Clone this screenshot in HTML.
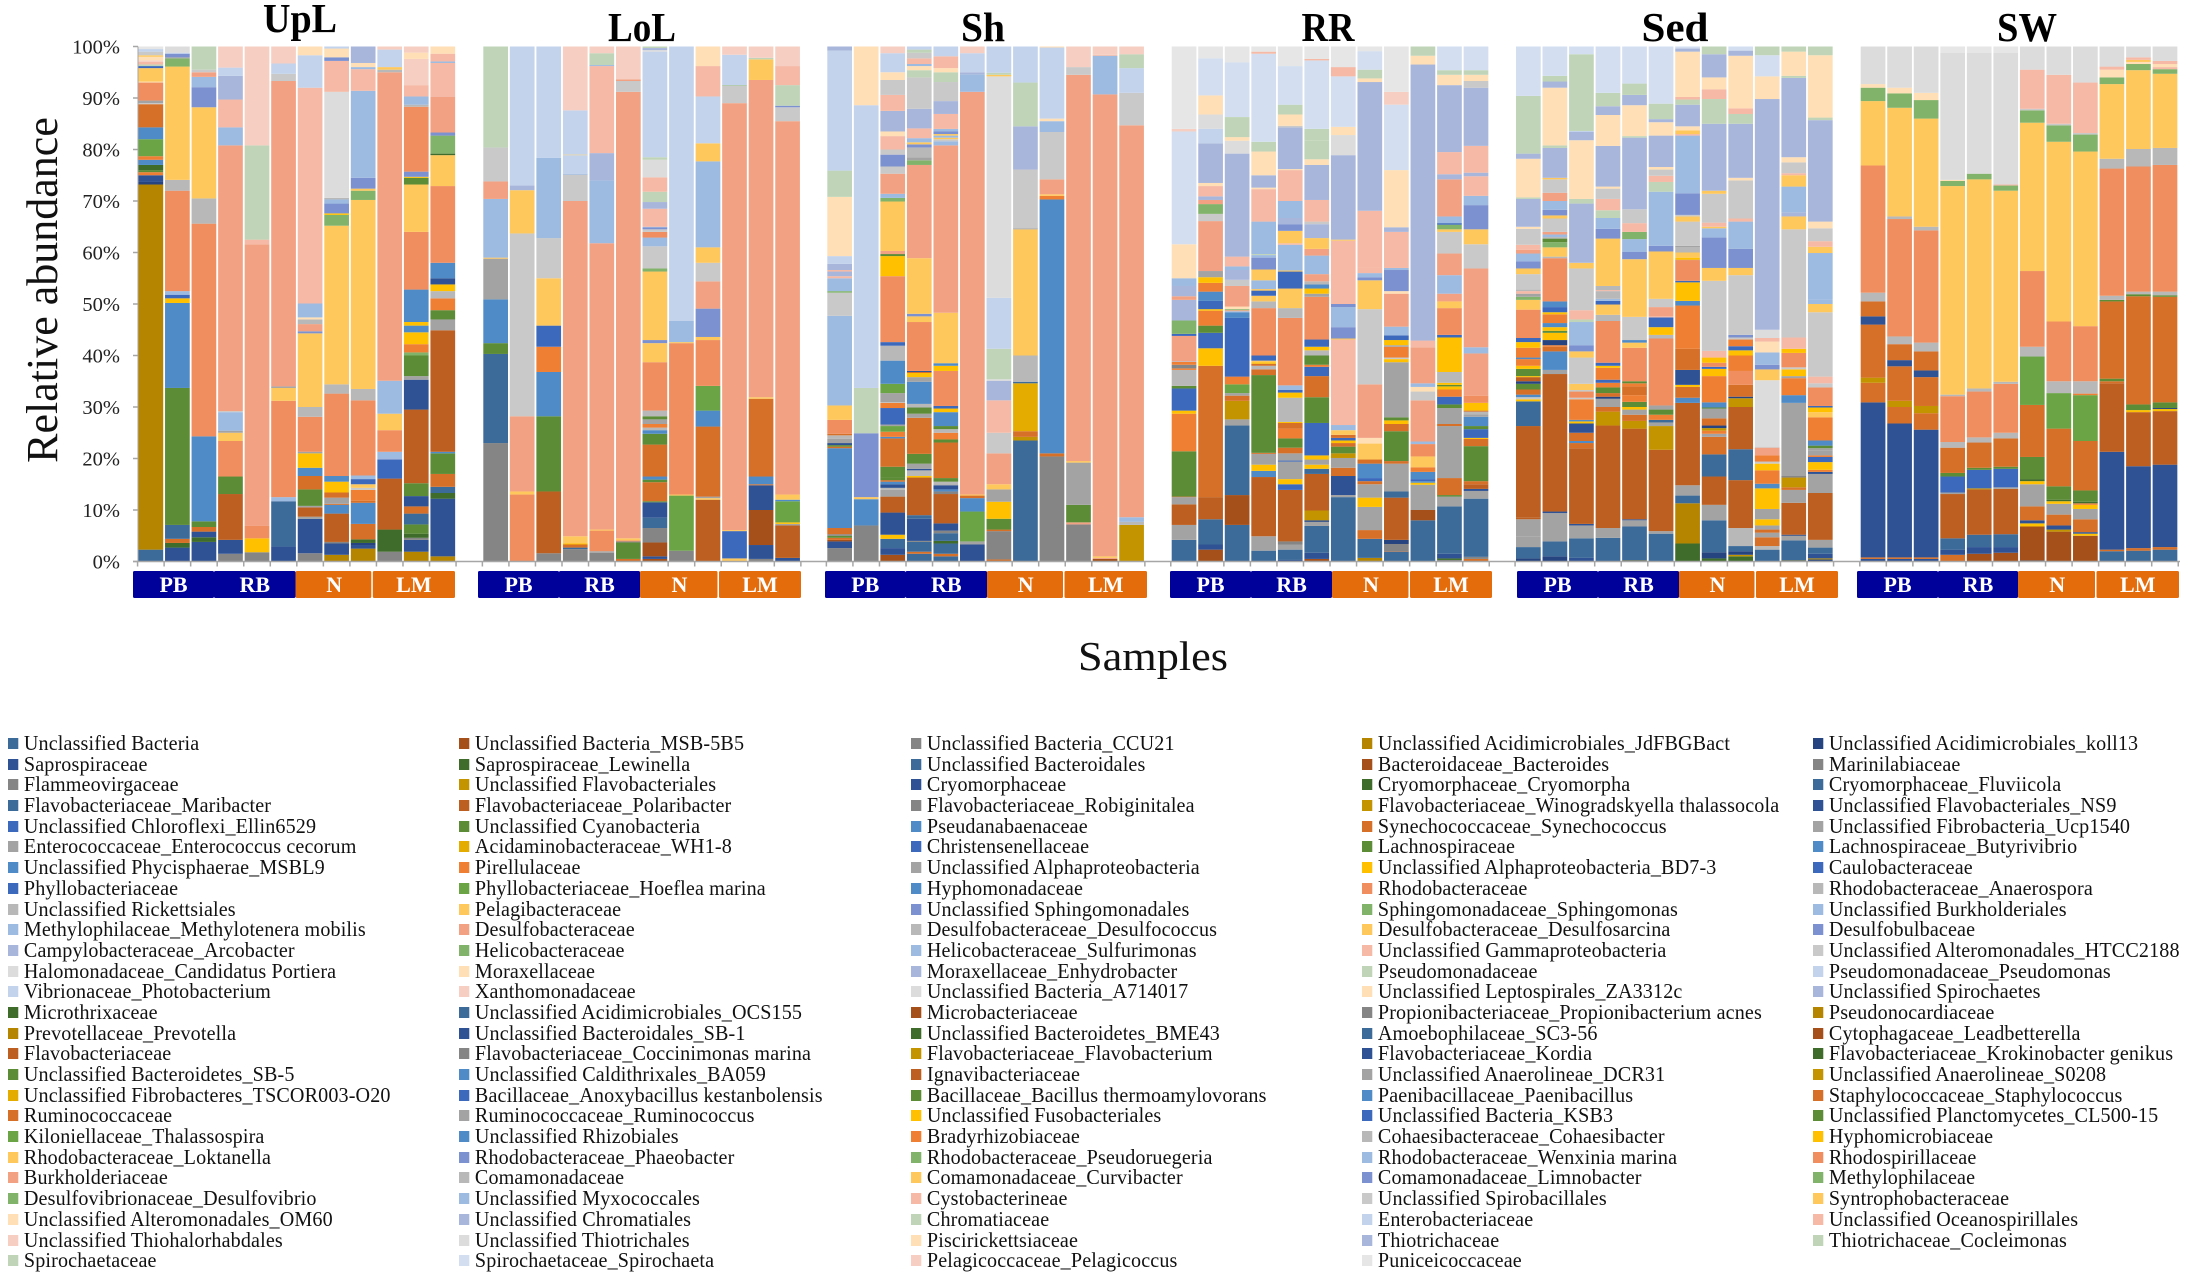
<!DOCTYPE html>
<html lang="en">
<head>
<meta charset="utf-8">
<title>Relative abundance by sample</title>
<style>
html,body{margin:0;padding:0;background:#fff}
#page{position:relative;width:2190px;height:1277px;overflow:hidden;background:#fff;font-family:"Liberation Serif",serif;color:#111}
#chart{position:absolute;left:0;top:0}
.col{position:absolute;top:733px;transform:scaleX(.935);transform-origin:left top}
.li{height:20.7px;line-height:20.7px;font-size:21.5px;white-space:nowrap;padding-left:17px;position:relative;letter-spacing:.15px}
.li i{position:absolute;left:0;top:5px;width:11.2px;height:11px}
.cS{background:#3d6b99}.cN{background:#2e5294}.cn{background:#26447f}.cK{background:#858585}.cB{background:#4f8bc6}.cR{background:#3d69bd}.cA{background:#a3a3a3}.cL{background:#b8b8b8}.cc{background:#c9c9c9}.cC{background:#dcdcdc}.cE{background:#e6e6e6}
.cD{background:#b58500}.cd{background:#c49400}.cW{background:#a5501a}.cP{background:#bc5f20}.cO{background:#d66f27}.co{background:#ee7f33}.cG{background:#3f6c2a}.cg{background:#5c8c36}.ch{background:#82b36a}.cy{background:#ffc000}.ce{background:#e5ac00}.cF{background:#6aa444}
.cY{background:#ffc85c}.cp{background:#f08e5f}.cs{background:#f2a283}.ct{background:#f5b9a5}.cq{background:#f6cfc2}.cf{background:#c0d5b8}.cl{background:#ffdfb5}.cu{background:#c3d3ec}.cU{background:#d3dff0}.cx{background:#9dbae0}.cz{background:#a9b6db}.cV{background:#7c91cf}
</style>
</head>
<body>
<div id="page">
<svg id="chart" width="2190" height="720" viewBox="0 0 2190 720" xmlns="http://www.w3.org/2000/svg">
  <g id="plot"></g>
  <text x="43" y="290" transform="rotate(-90 43 290)" dy="14" text-anchor="middle" font-family="Liberation Serif, serif" font-size="44" fill="#111">Relative abundance</text>
  <text x="1153" y="670" text-anchor="middle" font-family="Liberation Serif, serif" font-size="41" textLength="150" lengthAdjust="spacingAndGlyphs" fill="#111">Samples</text>
</svg>

<div class="col" style="left:8px">
<div class="li"><i class="cS"></i>Unclassified Bacteria</div>
<div class="li"><i class="cN"></i>Saprospiraceae</div>
<div class="li"><i class="cK"></i>Flammeovirgaceae</div>
<div class="li"><i class="cS"></i>Flavobacteriaceae_Maribacter</div>
<div class="li"><i class="cR"></i>Unclassified Chloroflexi_Ellin6529</div>
<div class="li"><i class="cA"></i>Enterococcaceae_Enterococcus cecorum</div>
<div class="li"><i class="cB"></i>Unclassified Phycisphaerae_MSBL9</div>
<div class="li"><i class="cR"></i>Phyllobacteriaceae</div>
<div class="li"><i class="cL"></i>Unclassified Rickettsiales</div>
<div class="li"><i class="cx"></i>Methylophilaceae_Methylotenera mobilis</div>
<div class="li"><i class="cz"></i>Campylobacteraceae_Arcobacter</div>
<div class="li"><i class="cC"></i>Halomonadaceae_Candidatus Portiera</div>
<div class="li"><i class="cu"></i>Vibrionaceae_Photobacterium</div>
<div class="li"><i class="cG"></i>Microthrixaceae</div>
<div class="li"><i class="cD"></i>Prevotellaceae_Prevotella</div>
<div class="li"><i class="cP"></i>Flavobacteriaceae</div>
<div class="li"><i class="cg"></i>Unclassified Bacteroidetes_SB-5</div>
<div class="li"><i class="ce"></i>Unclassified Fibrobacteres_TSCOR003-O20</div>
<div class="li"><i class="cO"></i>Ruminococcaceae</div>
<div class="li"><i class="cF"></i>Kiloniellaceae_Thalassospira</div>
<div class="li"><i class="cY"></i>Rhodobacteraceae_Loktanella</div>
<div class="li"><i class="cs"></i>Burkholderiaceae</div>
<div class="li"><i class="ch"></i>Desulfovibrionaceae_Desulfovibrio</div>
<div class="li"><i class="cl"></i>Unclassified Alteromonadales_OM60</div>
<div class="li"><i class="cq"></i>Unclassified Thiohalorhabdales</div>
<div class="li"><i class="cf"></i>Spirochaetaceae</div>
</div>

<div class="col" style="left:459px">
<div class="li"><i class="cW"></i>Unclassified Bacteria_MSB-5B5</div>
<div class="li"><i class="cG"></i>Saprospiraceae_Lewinella</div>
<div class="li"><i class="cd"></i>Unclassified Flavobacteriales</div>
<div class="li"><i class="cP"></i>Flavobacteriaceae_Polaribacter</div>
<div class="li"><i class="cg"></i>Unclassified Cyanobacteria</div>
<div class="li"><i class="ce"></i>Acidaminobacteraceae_WH1-8</div>
<div class="li"><i class="co"></i>Pirellulaceae</div>
<div class="li"><i class="cF"></i>Phyllobacteriaceae_Hoeflea marina</div>
<div class="li"><i class="cY"></i>Pelagibacteraceae</div>
<div class="li"><i class="cs"></i>Desulfobacteraceae</div>
<div class="li"><i class="ch"></i>Helicobacteraceae</div>
<div class="li"><i class="cl"></i>Moraxellaceae</div>
<div class="li"><i class="cq"></i>Xanthomonadaceae</div>
<div class="li"><i class="cS"></i>Unclassified Acidimicrobiales_OCS155</div>
<div class="li"><i class="cN"></i>Unclassified Bacteroidales_SB-1</div>
<div class="li"><i class="cK"></i>Flavobacteriaceae_Coccinimonas marina</div>
<div class="li"><i class="cB"></i>Unclassified Caldithrixales_BA059</div>
<div class="li"><i class="cR"></i>Bacillaceae_Anoxybacillus kestanbolensis</div>
<div class="li"><i class="cA"></i>Ruminococcaceae_Ruminococcus</div>
<div class="li"><i class="cB"></i>Unclassified Rhizobiales</div>
<div class="li"><i class="cV"></i>Rhodobacteraceae_Phaeobacter</div>
<div class="li"><i class="cL"></i>Comamonadaceae</div>
<div class="li"><i class="cx"></i>Unclassified Myxococcales</div>
<div class="li"><i class="cz"></i>Unclassified Chromatiales</div>
<div class="li"><i class="cC"></i>Unclassified Thiotrichales</div>
<div class="li"><i class="cU"></i>Spirochaetaceae_Spirochaeta</div>
</div>

<div class="col" style="left:911px">
<div class="li"><i class="cK"></i>Unclassified Bacteria_CCU21</div>
<div class="li"><i class="cS"></i>Unclassified Bacteroidales</div>
<div class="li"><i class="cN"></i>Cryomorphaceae</div>
<div class="li"><i class="cK"></i>Flavobacteriaceae_Robiginitalea</div>
<div class="li"><i class="cB"></i>Pseudanabaenaceae</div>
<div class="li"><i class="cR"></i>Christensenellaceae</div>
<div class="li"><i class="cA"></i>Unclassified Alphaproteobacteria</div>
<div class="li"><i class="cB"></i>Hyphomonadaceae</div>
<div class="li"><i class="cV"></i>Unclassified Sphingomonadales</div>
<div class="li"><i class="cL"></i>Desulfobacteraceae_Desulfococcus</div>
<div class="li"><i class="cx"></i>Helicobacteraceae_Sulfurimonas</div>
<div class="li"><i class="cz"></i>Moraxellaceae_Enhydrobacter</div>
<div class="li"><i class="cC"></i>Unclassified Bacteria_A714017</div>
<div class="li"><i class="cW"></i>Microbacteriaceae</div>
<div class="li"><i class="cG"></i>Unclassified Bacteroidetes_BME43</div>
<div class="li"><i class="cd"></i>Flavobacteriaceae_Flavobacterium</div>
<div class="li"><i class="cP"></i>Ignavibacteriaceae</div>
<div class="li"><i class="cg"></i>Bacillaceae_Bacillus thermoamylovorans</div>
<div class="li"><i class="cy"></i>Unclassified Fusobacteriales</div>
<div class="li"><i class="co"></i>Bradyrhizobiaceae</div>
<div class="li"><i class="ch"></i>Rhodobacteraceae_Pseudoruegeria</div>
<div class="li"><i class="cY"></i>Comamonadaceae_Curvibacter</div>
<div class="li"><i class="ct"></i>Cystobacterineae</div>
<div class="li"><i class="cf"></i>Chromatiaceae</div>
<div class="li"><i class="cl"></i>Piscirickettsiaceae</div>
<div class="li"><i class="cq"></i>Pelagicoccaceae_Pelagicoccus</div>
</div>

<div class="col" style="left:1362px">
<div class="li"><i class="cD"></i>Unclassified Acidimicrobiales_JdFBGBact</div>
<div class="li"><i class="cW"></i>Bacteroidaceae_Bacteroides</div>
<div class="li"><i class="cG"></i>Cryomorphaceae_Cryomorpha</div>
<div class="li"><i class="cd"></i>Flavobacteriaceae_Winogradskyella thalassocola</div>
<div class="li"><i class="cO"></i>Synechococcaceae_Synechococcus</div>
<div class="li"><i class="cg"></i>Lachnospiraceae</div>
<div class="li"><i class="cy"></i>Unclassified Alphaproteobacteria_BD7-3</div>
<div class="li"><i class="cp"></i>Rhodobacteraceae</div>
<div class="li"><i class="ch"></i>Sphingomonadaceae_Sphingomonas</div>
<div class="li"><i class="cY"></i>Desulfobacteraceae_Desulfosarcina</div>
<div class="li"><i class="ct"></i>Unclassified Gammaproteobacteria</div>
<div class="li"><i class="cf"></i>Pseudomonadaceae</div>
<div class="li"><i class="cl"></i>Unclassified Leptospirales_ZA3312c</div>
<div class="li"><i class="cK"></i>Propionibacteriaceae_Propionibacterium acnes</div>
<div class="li"><i class="cS"></i>Amoebophilaceae_SC3-56</div>
<div class="li"><i class="cN"></i>Flavobacteriaceae_Kordia</div>
<div class="li"><i class="cA"></i>Unclassified Anaerolineae_DCR31</div>
<div class="li"><i class="cB"></i>Paenibacillaceae_Paenibacillus</div>
<div class="li"><i class="cR"></i>Unclassified Bacteria_KSB3</div>
<div class="li"><i class="cL"></i>Cohaesibacteraceae_Cohaesibacter</div>
<div class="li"><i class="cx"></i>Rhodobacteraceae_Wenxinia marina</div>
<div class="li"><i class="cV"></i>Comamonadaceae_Limnobacter</div>
<div class="li"><i class="cc"></i>Unclassified Spirobacillales</div>
<div class="li"><i class="cu"></i>Enterobacteriaceae</div>
<div class="li"><i class="cz"></i>Thiotrichaceae</div>
<div class="li"><i class="cE"></i>Puniceicoccaceae</div>
</div>

<div class="col" style="left:1813px">
<div class="li"><i class="cn"></i>Unclassified Acidimicrobiales_koll13</div>
<div class="li"><i class="cK"></i>Marinilabiaceae</div>
<div class="li"><i class="cS"></i>Cryomorphaceae_Fluviicola</div>
<div class="li"><i class="cN"></i>Unclassified Flavobacteriales_NS9</div>
<div class="li"><i class="cA"></i>Unclassified Fibrobacteria_Ucp1540</div>
<div class="li"><i class="cB"></i>Lachnospiraceae_Butyrivibrio</div>
<div class="li"><i class="cR"></i>Caulobacteraceae</div>
<div class="li"><i class="cL"></i>Rhodobacteraceae_Anaerospora</div>
<div class="li"><i class="cx"></i>Unclassified Burkholderiales</div>
<div class="li"><i class="cV"></i>Desulfobulbaceae</div>
<div class="li"><i class="cc"></i>Unclassified Alteromonadales_HTCC2188</div>
<div class="li"><i class="cu"></i>Pseudomonadaceae_Pseudomonas</div>
<div class="li"><i class="cz"></i>Unclassified Spirochaetes</div>
<div class="li"><i class="cD"></i>Pseudonocardiaceae</div>
<div class="li"><i class="cW"></i>Cytophagaceae_Leadbetterella</div>
<div class="li"><i class="cG"></i>Flavobacteriaceae_Krokinobacter genikus</div>
<div class="li"><i class="cd"></i>Unclassified Anaerolineae_S0208</div>
<div class="li"><i class="cO"></i>Staphylococcaceae_Staphylococcus</div>
<div class="li"><i class="cg"></i>Unclassified Planctomycetes_CL500-15</div>
<div class="li"><i class="cy"></i>Hyphomicrobiaceae</div>
<div class="li"><i class="cp"></i>Rhodospirillaceae</div>
<div class="li"><i class="ch"></i>Methylophilaceae</div>
<div class="li"><i class="cY"></i>Syntrophobacteraceae</div>
<div class="li"><i class="ct"></i>Unclassified Oceanospirillales</div>
<div class="li"><i class="cf"></i>Thiotrichaceae_Cocleimonas</div>
</div>
</div>

<script>
// Categories and labels
const panelNames = ["UpL", "LoL", "Sh", "RR", "Sed", "SW"];
const groupNames = ["PB", "RB", "N", "LM"];
const tickLabels = ["0%", "10%", "20%", "30%", "40%", "50%", "60%", "70%", "80%", "90%", "100%"];
const tickValues = [0, 10, 20, 30, 40, 50, 60, 70, 80, 90, 100];

// Each sample lists taxon colour key followed by that segment's upper boundary (%), bottom to top.
const upLSamples = [
["S",2.3,"D",73.2,"n",73.7,"N",75,"o",75.6,"g",76,"G",77,"B",78,"o",78.7,"F",82,"B",84.3,"O",88.8,"c",89,"A",89.5,"p",93,"l",93.2,"Y",95.8,"R",96.2,"f",96.5,"t",97,"q",97.3,"l",98,"Y",98.3,"c",99,"u",99.5,"E",100],
["N",2.7,"G",3.6,"O",4.4,"S",7.1,"g",33.7,"B",50.2,"y",51.1,"R",51.8,"x",52.5,"p",72,"L",74.1,"Y",96.1,"h",97.7,"A",97.9,"V",98.6,"u",98.8,"C",100],
["N",3.8,"G",4.7,"N",5.8,"O",6.7,"g",7.8,"B",24.3,"p",65.6,"L",70.5,"Y",88.2,"V",92.1,"x",94.1,"s",95,"c",95.5,"f",100],
["K",1.5,"N",4.2,"P",13.1,"g",16.5,"p",23.4,"Y",25,"A",25.4,"x",29,"c",29.2,"s",80.8,"x",84.3,"t",89.7,"z",94.3,"u",95.9,"q",100],
["K",1.8,"y",4.5,"p",6.9,"s",61.6,"t",62.5,"f",80.8,"q",100],
["N",2.9,"S",11.7,"x",12.5,"p",31.2,"Y",33.7,"A",34,"s",93.3,"c",94.7,"u",96.7,"q",100],
["K",1.6,"N",8.3,"A",8.7,"P",10.5,"A",10.8,"g",14,"O",16.6,"B",18.2,"y",21,"A",21.3,"p",28.1,"L",30,"Y",44.3,"V",44.7,"s",46.1,"L",47,"l",47.4,"x",50.1,"t",92,"u",98.3,"l",100],
["D",1.3,"N",3.5,"K",3.8,"P",9.3,"B",11,"O",11.2,"A",12.4,"O",13.4,"y",15.5,"B",16.6,"p",32.6,"L",34.4,"Y",65.2,"h",67.3,"y",67.6,"V",69.5,"x",70.3,"L",70.6,"C",91.2,"t",97.2,"V",97.9,"l",99.6,"u",100],
["D",2.5,"N",3.2,"n",3.6,"G",4.3,"O",7.3,"B",11.4,"O",11.8,"o",13.9,"c",14.3,"Y",15,"R",16,"x",16.7,"p",31.3,"L",33.5,"Y",70.2,"h",72,"Y",72.4,"V",74.5,"x",91.4,"t",95.6,"x",96,"l",96.8,"z",100],
["K",1.9,"G",6.2,"P",16.1,"R",19.8,"z",20,"x",21.3,"p",25.5,"Y",28.7,"x",35.1,"s",95,"L",95.5,"Y",96,"u",99.4,"q",100],
["D",1.9,"N",4.2,"K",4.6,"G",5.4,"g",7.2,"S",9.3,"O",10.7,"N",12.7,"g",15.2,"P",29.5,"N",35.3,"A",36,"g",40,"h",40.6,"o",42.2,"y",44.5,"B",45.8,"y",46.5,"B",52.8,"p",64,"Y",73.2,"g",74.5,"y",74.7,"V",75.7,"p",88.3,"L",88.7,"x",90.3,"t",92.5,"q",97.6,"l",98.8,"q",100],
["D",1,"N",12.2,"G",13.3,"S",14.5,"O",17,"g",21,"B",21.3,"P",44.9,"A",47,"g",48.8,"o",51.1,"L",52.5,"y",53.8,"N",55,"B",58,"p",72.9,"Y",78.9,"G",79.2,"h",82.7,"V",83.3,"s",90.2,"t",96.8,"x",97.1,"t",98.6,"l",100]
];
const loLSamples = [
["K",23,"S",40.3,"g",42.4,"B",50.9,"A",58.8,"Y",59,"x",70.4,"s",73.8,"c",80.4,"f",100],
["p",13,"Y",13.6,"s",28.2,"c",63.7,"Y",72.1,"z",73,"u",100],
["K",1.6,"P",13.6,"g",28.2,"B",36.8,"o",41.7,"R",45.8,"Y",55,"c",62.8,"x",78.4,"u",100],
["K",2.4,"S",2.7,"O",3.3,"y",3.5,"Y",4.9,"s",70,"c",75.1,"x",75.3,"u",78.9,"Y",79,"u",87.6,"q",100],
["K",1.7,"A",2,"p",6,"Y",6.2,"s",61.8,"x",74,"z",79.3,"t",96.2,"x",96.4,"f",98.7,"q",100],
["O",0.5,"g",3.7,"K",3.9,"p",4.1,"Y",4.5,"s",91.2,"c",93.3,"s",93.6,"q",100],
["W",0.5,"N",1,"W",3.7,"K",6.5,"S",8.5,"N",11.5,"g",11.7,"O",15.4,"g",15.9,"B",16.5,"O",22.7,"g",24.8,"B",25.5,"L",26,"o",26.7,"A",27.6,"g",28.2,"L",29.3,"p",38.7,"Y",42.4,"V",43,"Y",56.3,"h",56.9,"c",61.2,"x",62.9,"p",64,"c",64.5,"V",64.9,"x",65,"t",68.5,"z",69.8,"f",71.8,"t",74.6,"C",78,"f",78.5,"u",99,"C",99.3,"z",99.7,"f",100],
["K",2.1,"F",12.8,"Y",13,"p",42.4,"Y",42.6,"x",46.7,"u",100],
["P",12,"Y",12.3,"A",12.6,"O",26.2,"B",29.3,"F",34.1,"p",43,"Y",43.6,"V",49.1,"s",54.4,"c",58,"Y",61,"x",77.7,"Y",81.2,"u",90.3,"t",96.2,"l",100],
["Y",0.6,"R",5.9,"Y",6.1,"s",89,"c",92.4,"h",92.5,"u",98.4,"q",100],
["K",0.5,"N",3.2,"W",10,"N",14.8,"O",15,"B",16.5,"O",31.6,"Y",31.9,"s",93.5,"Y",97.5,"f",97.8,"q",100],
["N",0.7,"P",7,"A",7.3,"y",7.6,"F",11.7,"B",12,"Y",13,"s",85.5,"c",88.2,"V",88.5,"f",92.5,"t",96.2,"q",100]
];
const shSamples = [
["K",2.6,"N",3.9,"W",4.2,"O",4.6,"g",5,"K",5.3,"O",6.5,"B",22,"O",22.3,"g",22.6,"N",23,"A",23.8,"L",24.5,"O",24.8,"p",27.5,"Y",30.3,"x",47.7,"c",52.2,"h",52.5,"x",55,"t",55.4,"z",56.3,"t",56.6,"z",57.8,"u",59.3,"l",70.8,"f",75.9,"u",99.2,"z",100],
["K",7,"B",12.1,"Y",12.5,"V",24.9,"f",33.7,"u",88.6,"l",100],
["W",1.3,"N",2.6,"S",4.4,"y",5.2,"N",9.5,"P",12.6,"A",13.9,"L",14.3,"N",15,"B",15.5,"O",15.8,"g",16.3,"g",18.4,"O",23.9,"B",24.2,"o",25.2,"F",26.3,"A",26.6,"R",29.8,"o",30.8,"c",30.9,"A",32.7,"F",34.5,"B",39,"L",41.9,"R",42.6,"p",55.4,"y",59.3,"g",59.7,"s",60.3,"Y",69.9,"h",70.6,"x",71.4,"s",75.3,"c",76.7,"V",79,"c",80,"t",82.6,"l",83.5,"z",87.5,"t",90.6,"c",93.5,"l",95,"u",98.7,"q",100],
["S",1.5,"O",1.9,"S",3.8,"K",4,"N",8.3,"S",9,"P",16.3,"y",16.6,"L",17.7,"N",18,"A",19,"g",20.9,"O",27.9,"A",28.7,"g",29.9,"L",30.6,"B",34.9,"A",35.8,"y",36.6,"O",36.8,"N",37,"p",46.5,"Y",47.6,"V",48.1,"Y",58.9,"s",77,"h",77.9,"A",78.5,"L",80.4,"V",81,"Y",81.4,"x",82.2,"t",84.1,"z",87.9,"c",94,"f",95.4,"l",96.2,"x",96.6,"t",97.7,"c",98.8,"f",99.4,"u",100],
["S",1,"O",1.5,"S",3.5,"G",4,"S",5.5,"K",6,"N",7.4,"P",13.1,"K",13.6,"B",14,"N",14.8,"A",15,"L",15.5,"g",16.2,"O",23.1,"g",23.7,"o",25,"L",25.7,"g",26.3,"B",29,"y",29.7,"R",30.2,"p",37,"y",38,"B",38.5,"Y",48.3,"s",80.8,"x",81.6,"c",82,"Y",82.3,"x",82.7,"Y",83,"V",83.5,"x",84,"t",86.9,"z",89.4,"c",93.1,"f",95,"l",95.8,"t",98.1,"u",100],
["N",3.3,"A",3.9,"F",9.7,"B",12.3,"O",12.8,"Y",13,"s",91.2,"x",94.6,"z",95,"u",98.7,"q",100],
["O",0.4,"K",5.9,"O",6.2,"g",8.3,"y",11.6,"A",14,"Y",15,"s",21,"c",25,"t",31.3,"z",35.1,"C",35.4,"f",41.3,"u",51.2,"C",94.2,"Y",94.5,"f",94.9,"u",100],
["S",23.5,"d",24.2,"O",25.3,"e",34.6,"S",34.9,"L",40,"Y",64.5,"A",64.7,"c",76.1,"z",84.5,"f",93,"u",100],
["K",20.4,"O",21,"B",70.3,"o",71,"Y",71.3,"s",74.2,"c",83.4,"x",85.5,"l",86,"u",99.8,"l",100],
["K",7.2,"s",7.6,"g",11,"A",19.2,"Y",19.5,"s",94.5,"c",96,"q",100],
["W",0.5,"s",0.7,"Y",1,"s",90.7,"x",98.2,"t",98.4,"q",100],
["d",7.1,"L",7.7,"x",8.6,"s",84.7,"c",91,"u",95.8,"f",98.5,"q",100]
];
const rrSamples = [
["S",4.2,"A",7.1,"P",11.1,"A",12.5,"O",12.6,"g",21.4,"o",28.7,"y",29.3,"R",33.6,"g",34.1,"L",37.2,"o",37.5,"K",38.2,"o",38.8,"x",38.9,"s",43.8,"R",44.2,"h",46.8,"z",50.8,"s",51.5,"z",53.5,"x",55,"l",61.6,"U",83.5,"q",84,"E",100],
["W",2.3,"N",3.3,"S",8.2,"P",12.5,"O",38,"y",41.4,"R",44.4,"g",45.8,"o",48.7,"y",49,"R",50.6,"B",52.4,"o",54.1,"y",55.2,"A",56.4,"s",66.1,"c",67.5,"h",69.4,"s",70.2,"z",70.9,"t",72.9,"l",73.5,"z",81.2,"u",84,"C",86.8,"l",90.5,"U",97.7,"E",100],
["S",7.1,"W",12.9,"S",26.4,"A",27.6,"d",31.2,"O",32.2,"A",32.7,"F",34.4,"o",35.9,"R",47.3,"B",48.4,"x",48.6,"s",48.8,"h",49,"l",49.5,"s",53.5,"c",54.7,"z",56.6,"x",57.3,"t",59.2,"z",79.2,"C",81.7,"l",82.4,"f",86.3,"U",96.9,"E",100],
["S",2.1,"A",4.9,"P",16.4,"B",17.6,"y",18.8,"A",20.9,"O",21.1,"g",36.2,"O",37.3,"L",38,"O",38.4,"y",38.7,"Y",39,"R",40,"p",49.2,"L",50.5,"Y",51.6,"R",52.6,"Y",52.9,"x",54.6,"Y",56.7,"V",59,"x",59.5,"f",59.7,"x",66,"t",72.3,"l",72.6,"z",75,"l",79.6,"f",81.5,"U",98.6,"t",99,"E",100],
["N",0.3,"S",2.3,"A",3.3,"K",3.9,"P",13.9,"R",15,"y",16,"A",19.4,"R",19.6,"A",21,"O",22.1,"g",23.9,"o",25.8,"O",26.9,"y",27.1,"L",31.8,"y",32.8,"R",33.3,"x",34.2,"p",47.3,"L",49.2,"Y",53,"R",56.3,"Y",56.5,"x",61.5,"t",61.8,"Y",64.2,"V",65.5,"z",66.7,"x",70,"t",76,"l",76.2,"z",84.3,"c",84.6,"l",86.8,"f",88.7,"U",96.2,"E",100],
["W",0.5,"N",1.7,"S",6.9,"A",7.7,"n",8,"d",9.9,"P",17,"S",18,"y",18.8,"A",19.8,"y",20.6,"R",26.9,"g",31.9,"O",36,"R",37.8,"o",38.2,"g",40,"L",41,"y",41.7,"R",43.1,"p",51.4,"A",52,"y",53,"B",53.8,"L",54.4,"s",55.8,"x",59.4,"s",60.7,"Y",62.8,"z",65.5,"c",66,"t",70.2,"z",77,"l",78.1,"f",81.7,"f",84,"U",97.3,"t",97.6,"E",100],
["S",12.5,"A",12.9,"N",16.6,"O",18.2,"A",20.1,"d",21,"g",22.3,"O",23,"y",23.5,"R",24,"O",24.6,"Y",25.5,"x",26.5,"t",43.1,"Y",43.3,"V",45.5,"x",49.4,"V",50,"t",62.3,"Y",62.5,"z",78.9,"C",82.8,"l",84.4,"U",94.2,"t",96,"E",100],
["D",0.7,"S",4.4,"O",6.1,"A",10.6,"y",12.4,"A",15,"O",15.6,"R",16.2,"B",19,"O",19.8,"Y",22.9,"l",24,"s",34.4,"c",49,"Y",54.6,"V",55.2,"x",56,"t",57,"t",68.1,"z",93.1,"l",93.8,"f",95.5,"U",99.1,"E",100],
["S",1.9,"W",2,"K",3.4,"n",4.2,"P",12.4,"S",13.6,"A",19,"O",19.5,"g",25.3,"O",26.7,"y",27.4,"g",28,"A",38.7,"y",39.3,"c",39.6,"o",41.7,"A",42,"y",43,"R",43.9,"x",45.6,"s",52,"l",52.5,"V",56.6,"x",57,"t",64,"z",64.9,"l",76,"U",88.7,"q",91.2,"E",100],
["S",8,"W",10,"A",14.9,"y",15.3,"B",15.6,"R",16,"B",17.4,"o",18.3,"Y",20.4,"p",22.8,"x",23.3,"s",31.3,"c",33,"l",33.9,"x",34.6,"s",41.6,"t",42.9,"z",96.5,"l",98.2,"f",100],
["K",0.3,"G",0.6,"N",1.5,"S",10.7,"A",12.6,"g",12.9,"O",16.2,"A",16.6,"A",26.3,"O",26.7,"A",29.8,"g",30.5,"R",32,"o",33.4,"y",34,"g",34.3,"y",34.7,"L",36.8,"y",43.5,"R",44,"p",49.2,"Y",50.5,"s",52,"x",55.6,"s",59.8,"c",64,"Y",64.5,"h",65.4,"R",65.7,"x",67,"s",74.2,"z",75.2,"t",79.5,"z",92.5,"l",94.5,"f",95.4,"U",100],
["O",0.5,"K",0.9,"S",12.2,"A",13.7,"N",14.1,"P",15,"O",15.6,"g",22.4,"O",23.8,"y",24,"R",25.7,"g",26.3,"B",28.1,"A",28.6,"L",29.1,"O",29.3,"y",30.8,"p",32.2,"s",40.4,"x",41.6,"s",56.9,"c",61.6,"Y",64.5,"V",69.2,"x",71,"t",74.8,"z",75.5,"t",80.7,"z",92,"c",93.3,"l",94.5,"f",95.4,"U",100]
];
const sedSamples = [
["n",0.6,"S",2.8,"A",4.8,"A",8.2,"P",8.5,"P",26.3,"S",31.1,"y",31.5,"c",31.9,"B",32.4,"O",33.4,"g",34.5,"n",35,"P",35.8,"y",36,"g",37.4,"y",38,"o",39.3,"B",39.6,"o",41.5,"y",42.6,"R",43.4,"p",48.9,"Y",50.8,"h",51.4,"A",52,"t",52.5,"L",52.8,"c",55.8,"Y",56.9,"V",58.3,"x",59.8,"s",60.5,"t",61.5,"c",64.6,"l",65,"z",70.4,"f",70.7,"l",78.2,"z",79.2,"f",90.4,"U",100],
["n",1,"S",3.9,"A",9.4,"N",9.7,"P",36.4,"A",37.2,"B",40.8,"O",41.7,"o",42,"n",43,"y",44.4,"g",44.8,"y",45.5,"B",46.3,"o",48,"y",48.4,"R",49.4,"B",50.5,"p",58.9,"L",59.2,"Y",61,"h",62,"g",62.7,"L",63,"x",63.5,"s",64,"c",66.6,"Y",67.2,"V",68.3,"x",70,"s",71.6,"c",74.2,"Y",74.5,"z",80.3,"f",80.8,"l",92,"z",93.2,"f",94.3,"U",100],
["N",0.7,"S",4.5,"A",7,"N",7.3,"P",22,"O",23,"B",23.4,"O",25,"N",26.8,"y",27.2,"B",27.5,"o",31.5,"c",31.8,"p",33,"c",33.3,"Y",34.5,"c",39.6,"Y",40.8,"V",42,"x",46.5,"f",47,"t",48.8,"c",56.9,"Y",58,"z",69.5,"f",70.4,"l",81.8,"z",83.4,"u",83.6,"f",98.5,"U",100],
["S",4.6,"A",6.5,"P",26.4,"d",29.1,"O",30,"A",31.6,"n",32,"O",32.7,"g",33.8,"o",34.7,"R",35.3,"o",37.6,"y",38,"R",38.6,"p",46.7,"L",47.9,"Y",49.9,"R",50.6,"x",51,"L",52.5,"t",52.7,"L",53.5,"Y",62.7,"V",64.6,"x",66.7,"f",68.2,"t",70.4,"c",72.4,"l",72.8,"z",80.7,"l",86.7,"z",88.4,"f",91,"U",100],
["D",0.2,"S",6.8,"A",8,"N",8.2,"P",25.8,"d",27.3,"O",28.5,"A",29.5,"y",30,"g",31,"o",32.3,"O",34,"o",34.6,"g",35,"p",41.5,"Y",42.5,"B",43,"c",43.5,"c",47.5,"Y",58.7,"V",60.1,"x",62.6,"h",64,"t",65.7,"c",68.4,"z",82.3,"f",82.6,"l",88.6,"z",90.6,"f",92.8,"U",100],
["S",5.4,"A",5.9,"P",21.7,"d",26.3,"A",27,"S",27.5,"o",28.5,"g",29.5,"A",30.3,"p",43.3,"L",44,"y",45.5,"R",47.4,"t",47.6,"s",49.4,"c",51,"Y",60.2,"V",61.3,"x",71.8,"f",73.7,"t",74.9,"c",76.1,"l",76.6,"z",82.7,"l",85.3,"z",85.9,"f",88.9,"U",100],
["G",3.5,"D",11.3,"S",12.8,"A",14.8,"P",30.8,"B",31.8,"O",33.9,"y",34.3,"N",37.2,"O",41.3,"o",49.7,"B",50.6,"y",54.2,"R",54.5,"p",58.5,"O",58.6,"y",59,"Y",60,"L",61,"A",61.3,"c",66,"Y",67,"c",67.3,"V",71.5,"x",82.7,"t",83,"Y",83.7,"l",84.5,"z",88.7,"f",89.7,"t",90.2,"l",99,"z",99.6,"U",100],
["G",0.6,"n",1.8,"S",8,"A",11,"P",16.5,"S",20.8,"O",24.2,"A",24.8,"o",25.4,"d",25.9,"n",26.4,"O",27.8,"A",29.7,"g",29.9,"B",30.9,"o",36,"y",37.4,"R",37.8,"p",38.6,"y",39.6,"t",40.9,"c",54.5,"Y",57,"V",62.9,"x",64.7,"Y",65,"t",65.8,"c",71.4,"Y",72,"z",85,"f",89.8,"t",91.7,"l",94,"z",98.5,"f",100],
["G",1,"d",1.3,"n",2,"S",3,"L",6.5,"P",15.8,"S",21.8,"P",30,"d",31.7,"n",32,"O",34.3,"p",37,"o",40,"y",41,"R",41.8,"o",43.1,"c",43.5,"V",44,"c",55.6,"Y",57,"V",60.7,"x",66,"t",66.6,"c",74,"l",74.5,"z",85,"f",86.9,"t",88,"l",98.2,"z",99.2,"U",100],
["S",2.3,"L",3,"O",4.7,"A",5.6,"O",6.2,"A",7,"y",8.2,"A",10.2,"y",14.2,"B",15.1,"o",17.7,"y",19,"c",19.4,"o",20.6,"s",22.1,"c",22.3,"C",35.2,"Y",37.3,"V",38.2,"x",40.6,"l",42.7,"t",43.4,"C",45,"z",89.8,"l",94.2,"U",98.3,"f",100],
["D",0.2,"S",4.1,"A",5,"n",5.2,"P",11.4,"A",13.9,"O",14.4,"d",16.3,"K",16.6,"A",30.8,"B",32.3,"o",35.6,"A",36,"y",37.3,"c",37.7,"p",40.5,"y",41.3,"t",43.5,"c",64.5,"Y",67,"z",67.8,"x",72.8,"Y",75,"t",75.4,"c",77.5,"l",78.5,"z",93.9,"f",94.3,"l",99,"f",100],
["n",0.4,"d",0.6,"N",1.5,"S",2.7,"A",4.2,"P",13.3,"A",17,"N",17.4,"o",17.8,"y",19.3,"R",20.3,"o",20.6,"A",21.6,"A",22,"g",22.5,"B",23.5,"o",28,"Y",29,"y",29.9,"R",30.2,"p",33.8,"c",34.6,"t",35.9,"c",48.4,"Y",50,"x",50.9,"x",59.9,"Y",61.1,"t",62.2,"c",64.7,"l",66,"z",85.7,"f",86.2,"l",98.3,"f",100]
];
const swSamples = [
["N",0.5,"O",0.8,"N",30.9,"O",34.7,"d",35.7,"O",46,"N",47.6,"O",50.5,"L",52.2,"p",76.9,"Y",89.4,"h",92,"l",92.7,"C",100],
["N",0.5,"O",0.8,"N",26.8,"O",30,"d",31.2,"O",37.9,"N",39.1,"O",42.2,"L",43.7,"p",66.5,"L",67,"Y",88.1,"h",90.9,"l",92,"C",100],
["N",0.5,"O",0.8,"N",25.6,"O",28.8,"d",30.2,"O",35.8,"N",37.1,"O",40.8,"L",42.5,"p",64.3,"L",65,"Y",86,"h",89.6,"l",91,"C",100],
["O",1.3,"N",2.3,"S",4.5,"P",13.1,"A",13.4,"R",16.5,"g",17.2,"O",22.1,"L",23.2,"p",32.1,"L",32.4,"Y",72.9,"h",73.9,"l",74.1,"C",98.8,"E",100],
["W",1.5,"N",2.8,"S",5.2,"P",14,"d",14.2,"R",17.8,"g",18.2,"O",23.1,"L",24.1,"p",33,"L",33.6,"Y",74.2,"h",75.3,"C",98.8,"E",100],
["W",1.7,"N",2.8,"S",5.3,"P",14.1,"A",14.4,"R",18,"g",18.4,"O",23.9,"L",25,"p",34.5,"L",34.9,"Y",72,"h",73,"t",73.2,"C",98.8,"E",100],
["S",0.2,"W",6.8,"y",7.4,"N",8,"O",10.7,"A",15,"y",15.6,"G",16,"g",20.3,"O",30.4,"F",39.8,"L",41.7,"p",56.4,"Y",85.2,"h",87.6,"c",87.9,"t",95.5,"C",100],
["W",5.8,"d",6.2,"N",7,"O",9.1,"A",11.2,"y",11.7,"G",12,"g",14.6,"O",25.8,"F",32.7,"L",35,"p",46.6,"Y",81.5,"h",84.7,"c",85,"t",94.5,"C",100],
["W",5,"y",5.4,"N",5.7,"O",8.2,"A",10.2,"y",11,"o",11.3,"G",11.6,"g",13.8,"O",23.4,"F",32.3,"o",32.6,"L",35,"p",45.7,"Y",79.6,"h",82.9,"c",83.2,"t",93,"C",100],
["S",2,"O",2.3,"N",21.3,"P",34.6,"O",35,"g",35.5,"O",50.5,"g",50.8,"L",51.6,"p",76.3,"L",78.2,"Y",92.7,"h",94,"l",95.5,"t",96.1,"C",100],
["S",2.1,"O",2.6,"N",18.5,"P",29,"y",29.4,"g",30.5,"O",51.5,"g",51.9,"L",52.4,"p",76.7,"L",80.1,"Y",95.4,"h",96.6,"l",97,"Y",97.4,"t",97.9,"C",100],
["S",2.3,"O",2.8,"N",18.8,"P",29.2,"y",29.6,"n",29.8,"g",30.9,"O",51.4,"g",51.7,"L",52.4,"p",77,"L",80.3,"Y",94.7,"h",95.6,"t",96,"l",96.6,"t",97.2,"C",100]
];
const panelSamples = [upLSamples, loLSamples, shSamples, rrSamples, sedSamples, swSamples];

// Layout and colour keys (not data)
const colorOf = {S:"#3d6b99",N:"#2e5294",n:"#26447f",K:"#858585",B:"#4f8bc6",R:"#3d69bd",A:"#a3a3a3",L:"#b8b8b8",c:"#c9c9c9",C:"#dcdcdc",E:"#e6e6e6",D:"#b58500",d:"#c49400",W:"#a5501a",P:"#bc5f20",O:"#d66f27",o:"#ee7f33",G:"#3f6c2a",g:"#5c8c36",F:"#6aa444",h:"#82b36a",y:"#ffc000",e:"#e5ac00",Y:"#ffc85c",p:"#f08e5f",s:"#f2a283",t:"#f5b9a5",q:"#f6cfc2",f:"#c0d5b8",l:"#ffdfb5",u:"#c3d3ec",U:"#d3dff0",x:"#9dbae0",z:"#a9b6db",V:"#7c91cf"};
const panelLeft = [138.5, 483.3, 827.3, 1171.7, 1516, 1860.7];
const titleCenter = [300, 642, 983, 1328, 1675, 2027];
const titleBase = [32, 41, 41, 41, 41, 41];
const titleWidth = [74, 68, 44, 53, 67, 60];
const groupEdges = [
  [133,214,295.5,372.8,455],
  [478,559,640,719,801],
  [825,905.5,987,1064.5,1147],
  [1170,1251,1332,1410,1492],
  [1517,1598,1679,1756,1838],
  [1857,1938,2018,2096.5,2179]
];
const barPitch = 26.54, barWidth = 24.7;
const plotTop = 46.5, plotBottom = 561.5;
const SVGNS = "http://www.w3.org/2000/svg";
const plot = document.getElementById("plot");

function yScale(p){ return plotBottom - (p / 100) * (plotBottom - plotTop); }
function xScale(panel, i){ return panelLeft[panel] + i * barPitch; }
function make(tag, attrs){
  const el = document.createElementNS(SVGNS, tag);
  for (const k in attrs) el.setAttribute(k, attrs[k]);
  return el;
}

// Stacked segments
panelSamples.forEach(function(samples, pi){
  samples.forEach(function(sample, si){
    let prev = 0;
    for (let j = 0; j < sample.length; j += 2){
      const top = sample[j + 1];
      const y1 = yScale(top), y0 = yScale(prev);
      const seg = make("rect", {x: xScale(pi, si), y: y1, width: barWidth, height: Math.max(0, y0 - y1), fill: colorOf[sample[j]]});
      
      
      plot.appendChild(seg);
      prev = top;
    }
  });
});

// Axes
const baseline = make("line", {x1: 133, x2: 2180, y1: plotBottom, y2: plotBottom, stroke: "#a6a6a6", "stroke-width": 1.5});


plot.appendChild(baseline);
const yLine = make("line", {x1: 138, x2: 138, y1: plotTop, y2: plotBottom, stroke: "#a6a6a6", "stroke-width": 1});


plot.appendChild(yLine);

tickValues.forEach(function(v, i){
  const tick = make("line", {x1: 133, x2: 138, y1: yScale(v), y2: yScale(v), stroke: "#a6a6a6", "stroke-width": 1.5});
  
  
  plot.appendChild(tick);
  const label = make("text", {x: 120, y: yScale(v) + 7, "text-anchor": "end", "font-family": "Liberation Serif, serif", "font-size": 20.5, fill: "#222"});
  
  
  label.textContent = tickLabels[i];
  plot.appendChild(label);
});

panelNames.forEach(function(name, pi){
  for (let i = 0; i <= 12; i++){
    const x = xScale(pi, i) - (barPitch - barWidth) / 2;
    const t = make("line", {x1: x, x2: x, y1: plotBottom, y2: plotBottom + 5, stroke: "#a6a6a6", "stroke-width": 1.5});
    
    
    plot.appendChild(t);
  }
  const title = make("text", {x: titleCenter[pi], y: titleBase[pi], "text-anchor": "middle", "font-family": "Liberation Serif, serif", "font-size": 41, "font-weight": "bold", fill: "#000", textLength: titleWidth[pi], lengthAdjust: "spacingAndGlyphs"});
  
  
  title.textContent = name;
  plot.appendChild(title);

  groupNames.forEach(function(g, gi){
    const left = groupEdges[pi][gi], right = groupEdges[pi][gi + 1];
    const box = make("rect", {x: left, y: 571, width: right - left - (gi === 2 ? 1.5 : 0), height: 27, rx: 1.5, fill: gi < 2 ? "#00009a" : "#e46c0a"});
    
    
    plot.appendChild(box);
    const lab = make("text", {x: (left + right) / 2, y: 592, "text-anchor": "middle", "font-family": "Liberation Serif, serif", "font-size": 22, "font-weight": "bold", fill: "#fff"});
    
    
    lab.textContent = g;
    plot.appendChild(lab);
  });
});
</script>
</body>
</html>
